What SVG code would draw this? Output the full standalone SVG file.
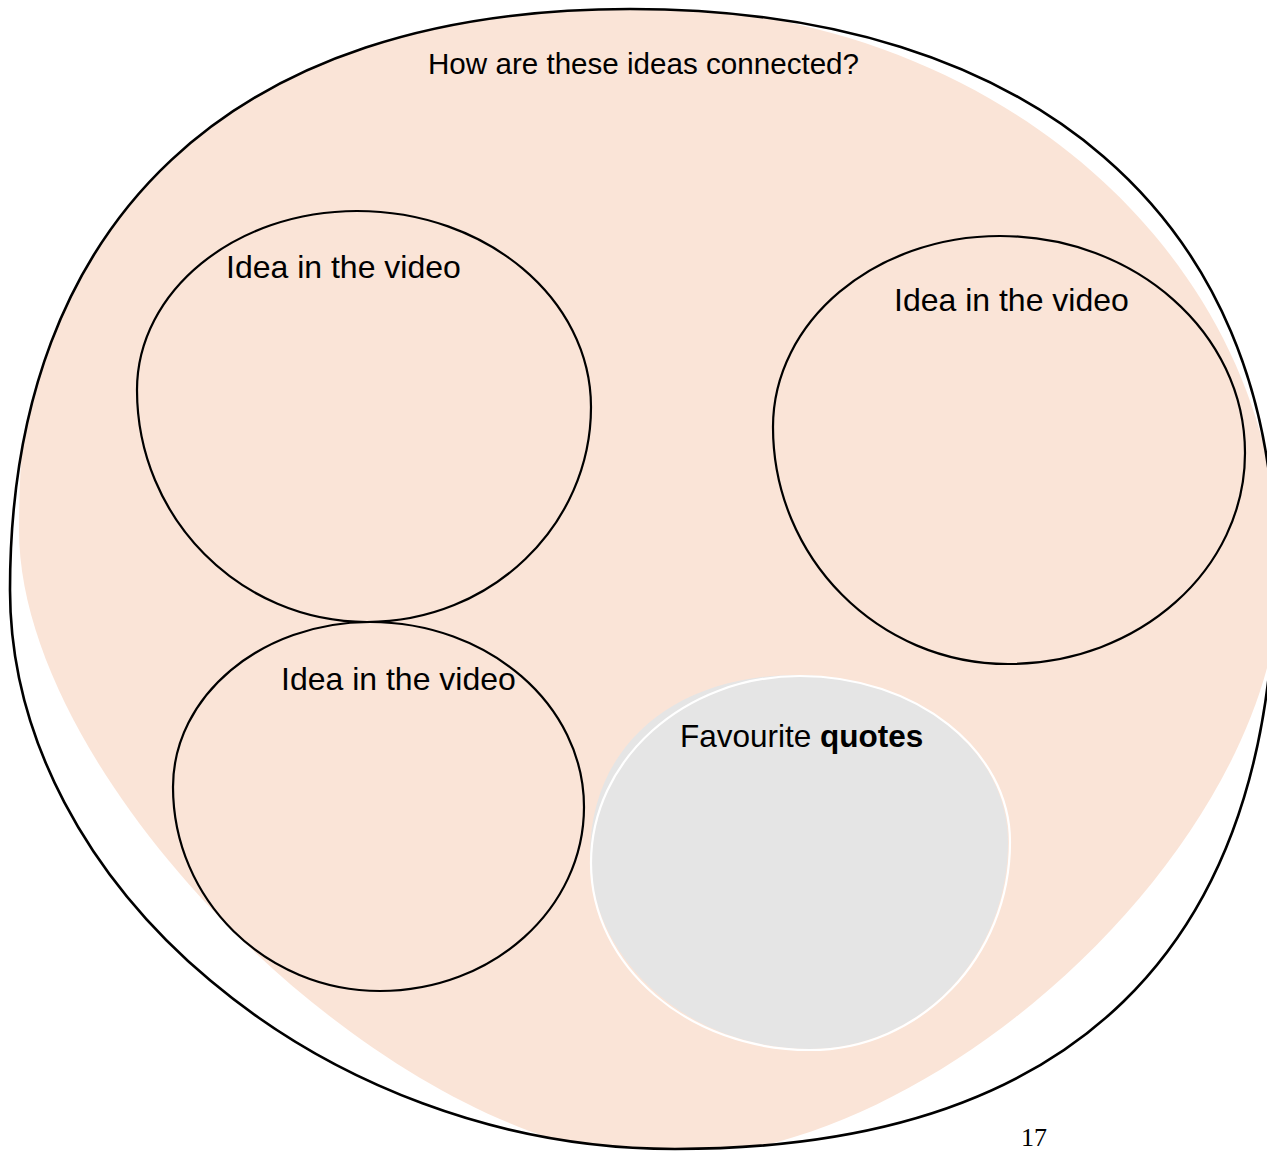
<svg xmlns="http://www.w3.org/2000/svg" width="1267" height="1151" viewBox="0 0 1267 1151">
  <style>
    .lbl { font-family: "Liberation Sans", Arial, Helvetica, sans-serif; fill: #000; }
    .idea { fill: none; stroke: #000; stroke-width: 2.2; }
    .outer { fill: none; stroke: #000; stroke-width: 2.6; }
  </style>
  <defs>
    <clipPath id="outerClip">
      <path d="M630,9 C1033.1,9 1275,217.5 1275,565 C1275,950.4 1071,1149 675,1149 C322.6,1149 10,886.3 10,590 C10,218.2 233.2,9 630,9 Z"/>
    </clipPath>
  </defs>
  <rect x="0" y="0" width="1267" height="1151" fill="#ffffff"/>

  <g id="background-blob" clip-path="url(#outerClip)">
    <path fill="#FAE4D7" d="M630,6 C994,6 1280,256.4 1280,575 C1280,837.4 941.8,1158 665,1158 C400.1,1158 19,787.5 19,530 C19,152.7 190.1,6 630,6 Z"/>
  </g>

  <g id="outer-outline">
    <path class="outer" d="M630,9 C1033.1,9 1275,217.5 1275,565 C1275,950.4 1071,1149 675,1149 C322.6,1149 10,886.3 10,590 C10,218.2 233.2,9 630,9 Z"/>
    <text class="lbl" x="428" y="74" font-size="29.6">How are these ideas connected?</text>
  </g>

  <g id="idea-1">
    <path class="idea" d="M357,211 C486.2,211 591,298.8 591,407 C591,525.7 490.7,622 367,622 C240,622 137,518.1 137,390 C137,291.1 235.5,211 357,211 Z"/>
    <text class="lbl" x="226" y="278" font-size="32">Idea in the video</text>
  </g>

  <g id="idea-2">
    <path class="idea" d="M1000,236 C1135.3,236 1245,333.2 1245,453 C1245,569.5 1138.9,664 1008,664 C878.2,664 773,557.9 773,427 C773,321.5 874.6,236 1000,236 Z"/>
    <text class="lbl" x="894" y="311" font-size="32">Idea in the video</text>
  </g>

  <g id="idea-3">
    <path class="idea" d="M370,622 C488.2,622 584,704.8 584,807 C584,908.6 492.7,991 380,991 C265.7,991 173,899.7 173,787 C173,695.9 261.2,622 370,622 Z"/>
    <text class="lbl" x="281" y="690" font-size="32">Idea in the video</text>
  </g>

  <g id="favourite-quotes">
    <path fill="#E5E5E5" d="M797,675 C914,675 1008,750 1008,842 C1008,956 920,1049 810,1049 C689,1049 590,960 590,855 C590,747 672.8,675 797,675 Z"/>
    <path fill="none" stroke="#ffffff" stroke-width="2.2" d="M800,676 C916,676 1010,750.3 1010,842 C1010,956.9 920.5,1050 810,1050 C689,1050 591,966.3 591,863 C591,759.7 684.6,676 800,676 Z"/>
    <text class="lbl" x="680" y="747" font-size="31.5">Favourite <tspan font-weight="bold">quotes</tspan></text>
  </g>

  <g id="connectors"></g>

  <text x="1021" y="1146" font-family="'Liberation Serif', 'Times New Roman', serif" font-size="26" fill="#000">17</text>
</svg>
